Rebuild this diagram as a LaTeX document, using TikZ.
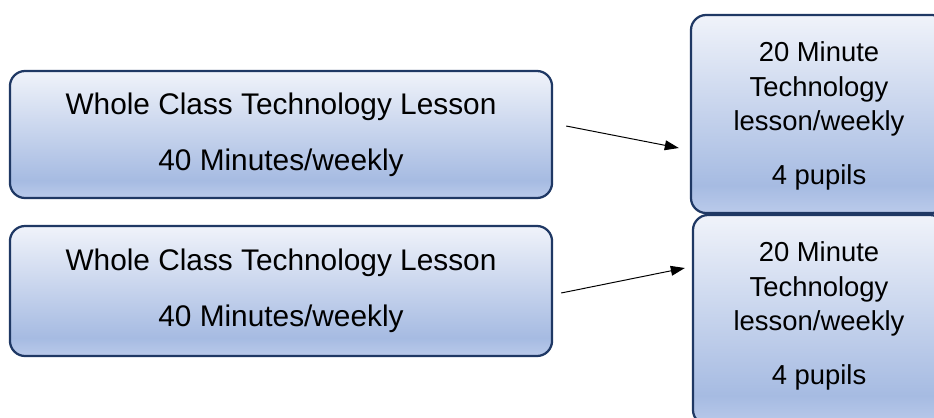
\documentclass[tikz,border=0pt]{standalone}
\usepackage{fontspec}
\setmainfont{Liberation Sans}
\usetikzlibrary{arrows.meta,calc}
\definecolor{BoxEdge}{RGB}{31,56,100}
\definecolor{BoxTop}{RGB}{240,243,250}
\definecolor{BoxMid}{RGB}{166,187,226}
\definecolor{BoxFoot}{RGB}{186,202,234}
% light at the top, darkest just above the bottom edge
\pgfdeclareverticalshading{boxshade}{100bp}{color(0bp)=(BoxFoot); color(25bp)=(BoxFoot);
  color(32bp)=(BoxMid); color(75bp)=(BoxTop); color(100bp)=(BoxTop)}

\begin{document}
\begin{tikzpicture}[x=0.025cm, y=-0.025cm,
    every node/.style={align=center, text=black},
    boxbase/.style={draw=BoxEdge, line width=1.6pt, rounded corners=0.38cm, shading=boxshade, inner sep=0pt},
    lessonbox/.style={boxbase, minimum width=13.55cm, font=\fontsize{21.2}{40}\selectfont},
    groupbox/.style={boxbase, font=\fontsize{19.5}{24.5}\selectfont},
    arr/.style={-{Triangle[length=10pt,width=7pt]}, line width=0.7pt}]
  \useasboundingbox (0,0) rectangle (934,417);
  \clip (0,0) rectangle (934,417);

  % whole class lessons (left)
  \node[lessonbox, minimum height=3.175cm] (wc1) at (281,134.5)
    {Whole Class Technology Lesson\\40 Minutes/weekly};
  \node[lessonbox, minimum height=3.25cm] (wc2) at (281,291)
    {Whole Class Technology Lesson\\40 Minutes/weekly};

  % small group lessons (right, running off the page)
  \node[groupbox, minimum width=6.4cm, minimum height=4.95cm] (grp1) at (819,114)
    {\rule{0pt}{17pt}20 Minute\\Technology\\lesson/weekly\\[13.8pt]4 pupils};
  \node[groupbox, minimum width=6.3cm, minimum height=5.25cm] (grp2) at (819,320)
    {20 Minute\\Technology\\lesson/weekly\\[13.8pt]4 pupils\rule[-0.35cm]{0pt}{0.35cm}};

  % arrows
  \draw[arr] ($(wc1.east)+(13,-8.5)$) -- ($(grp1.west)+(-11,34)$);
  \draw[arr] ($(wc2.east)+(8,2)$) -- ($(grp2.west)+(-7,-52)$);
\end{tikzpicture}
\end{document}
